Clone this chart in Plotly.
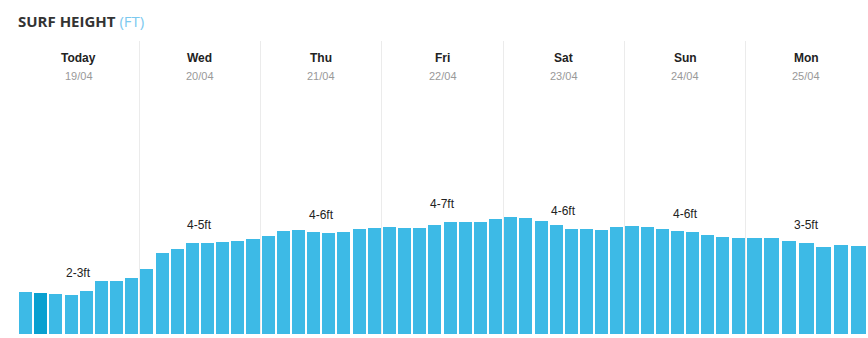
import plotly.graph_objects as go

# Forecast days shown as columns
day_names = ["Today", "Wed", "Thu", "Fri", "Sat", "Sun", "Mon"]
day_dates = ["19/04", "20/04", "21/04", "22/04", "23/04", "24/04", "25/04"]
day_ranges = ["2-3ft", "4-5ft", "4-6ft", "4-7ft", "4-6ft", "4-6ft", "3-5ft"]

# Surf height (ft) per 3-hour slot for each day
surf_today = [2.1, 2.05, 2.0, 1.95, 2.15, 2.65, 2.65, 2.8]
surf_wed = [3.25, 4.05, 4.25, 4.55, 4.55, 4.6, 4.65, 4.75]
surf_thu = [4.9, 5.15, 5.2, 5.1, 5.05, 5.1, 5.25, 5.3]
surf_fri = [5.35, 5.3, 5.3, 5.45, 5.6, 5.6, 5.6, 5.75]
surf_sat = [5.85, 5.8, 5.65, 5.45, 5.25, 5.25, 5.2, 5.35]
surf_sun = [5.4, 5.35, 5.25, 5.15, 5.1, 4.95, 4.85, 4.8]
surf_mon = [4.8, 4.8, 4.65, 4.55, 4.35, 4.45, 4.4]

# Index of the noon slot in each day (label sits above it)
noon_index = [4, 4, 4, 4, 4, 4, 3]
# Currently selected slot (day, slot)
selected = (0, 1)

days = [surf_today, surf_wed, surf_thu, surf_fri, surf_sat, surf_sun, surf_mon]

BAR = "#3dbae6"
BAR_SEL = "#08a0d0"

xs, ys, ws, cols = [], [], [], []
for d, vals in enumerate(days):
    n = len(vals)
    for i, v in enumerate(vals):
        xs.append(d + (i + 0.5) / n)
        ys.append(v)
        ws.append(0.86 / n)
        cols.append(BAR_SEL if (d, i) == selected else BAR)

fig = go.Figure(
    go.Bar(x=xs, y=ys, width=ws, marker=dict(color=cols, line=dict(width=0)),
           hoverinfo="skip")
)

annotations = [
    dict(
        text="<b>SURF HEIGHT</b> <span style='color:#7cc9ef'>(FT)</span>",
        xref="paper", yref="paper", x=-0.002, y=1.068,
        xanchor="left", yanchor="middle", showarrow=False,
        font=dict(family="Open Sans", size=15, color="#333333"),
    )
]
for d in range(7):
    annotations.append(dict(
        text="<b>%s</b>" % day_names[d], xref="x", yref="paper",
        x=d + 0.5, y=0.942, showarrow=False, yanchor="middle",
        font=dict(family="Liberation Sans, Arial", size=12, color="#222222"),
    ))
    annotations.append(dict(
        text=day_dates[d], xref="x", yref="paper",
        x=d + 0.5, y=0.882, showarrow=False, yanchor="middle",
        font=dict(family="Liberation Sans, Arial", size=11, color="#999999"),
    ))
    annotations.append(dict(
        text=day_ranges[d], xref="x", yref="y",
        x=d + 0.5, y=days[d][noon_index[d]], yshift=18,
        showarrow=False, yanchor="middle",
        font=dict(family="Liberation Sans, Arial", size=12, color="#222222"),
    ))

fig.update_layout(
    width=868, height=338,
    margin=dict(l=18, r=1, t=41, b=4),
    paper_bgcolor="white", plot_bgcolor="white",
    showlegend=False, bargap=0,
    annotations=annotations,
    xaxis=dict(range=[0, 7], tickvals=list(range(8)), showticklabels=False,
               showgrid=True, gridcolor="#ebebeb", gridwidth=1,
               zeroline=False, showline=False, fixedrange=True),
    yaxis=dict(range=[0, 14.65], showticklabels=False, showgrid=False,
               zeroline=False, showline=False, fixedrange=True),
)

fig.write_html("out.html")
